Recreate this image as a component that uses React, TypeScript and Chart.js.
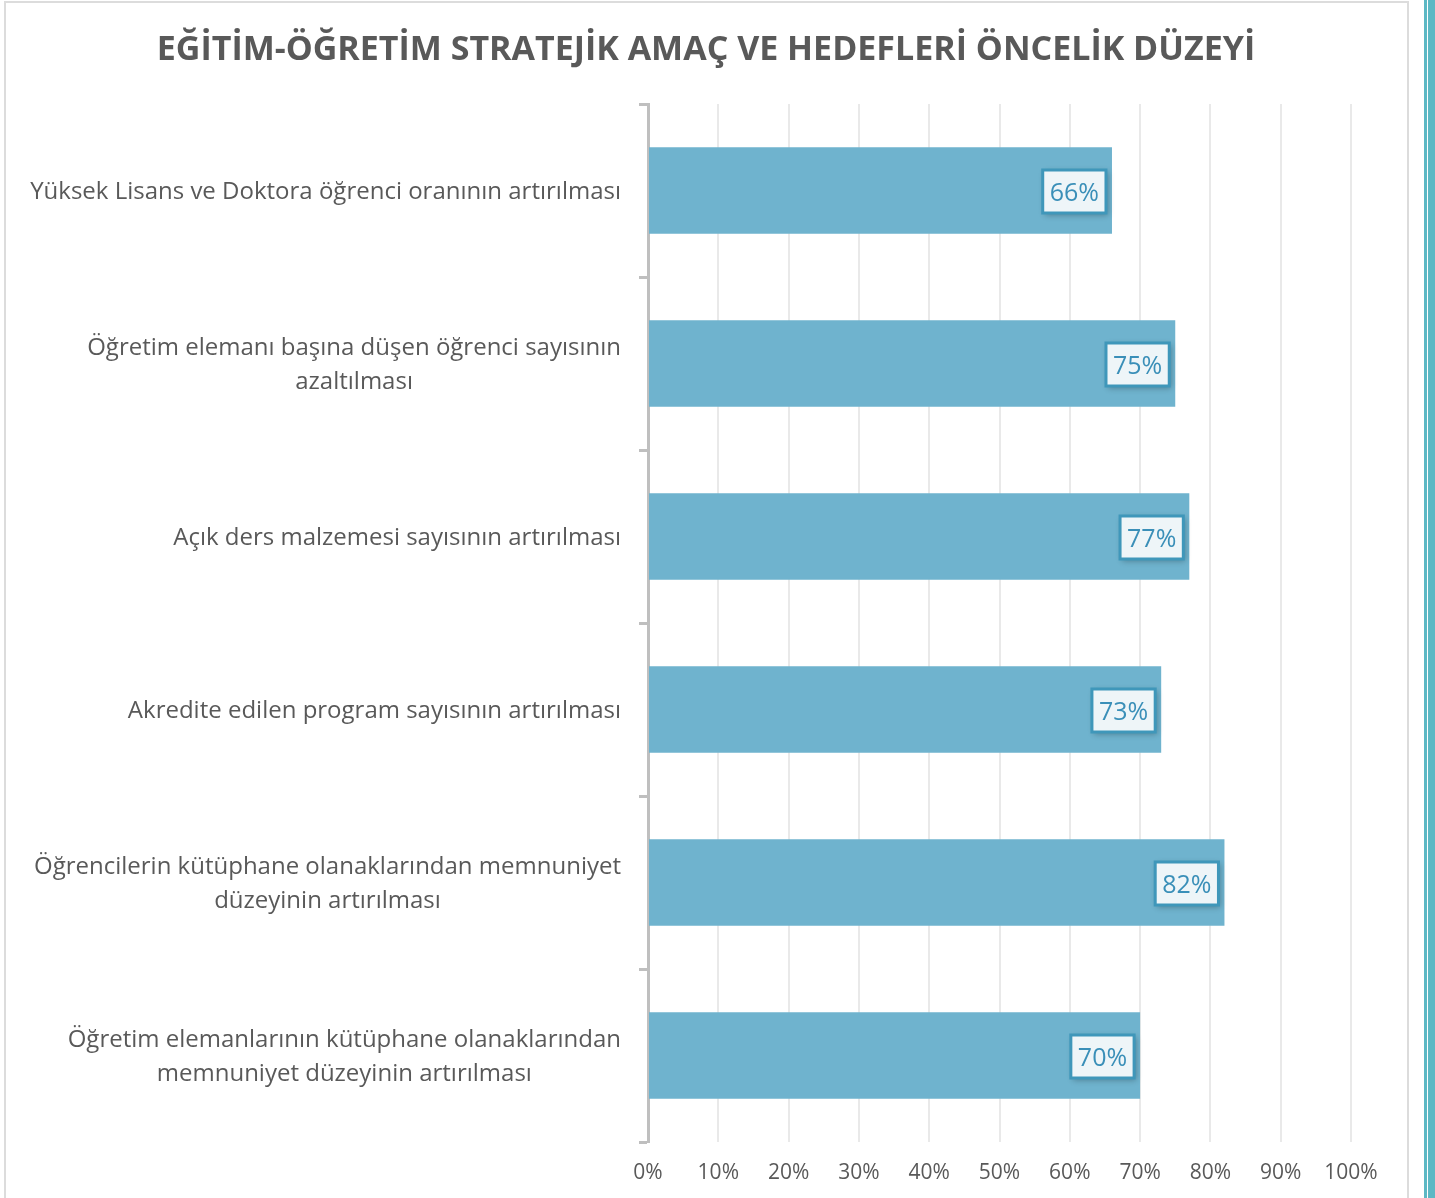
import React, { useEffect, useRef } from "react";
import { Chart, registerables } from "chart.js";

Chart.register(...registerables);

const chartTitle = "EĞİTİM-ÖĞRETİM STRATEJİK AMAÇ VE HEDEFLERİ ÖNCELİK DÜZEYİ";

const categories: string[][] = [
  ["Yüksek Lisans ve Doktora öğrenci oranının artırılması"],
  ["Öğretim elemanı başına düşen öğrenci sayısının", "azaltılması"],
  ["Açık ders malzemesi sayısının artırılması"],
  ["Akredite edilen program sayısının artırılması"],
  ["Öğrencilerin kütüphane olanaklarından memnuniyet", "düzeyinin artırılması"],
  ["Öğretim elemanlarının kütüphane olanaklarından", "memnuniyet düzeyinin artırılması"],
];

const values: number[] = [66, 75, 77, 73, 82, 70];

const xTickValues: number[] = [0, 10, 20, 30, 40, 50, 60, 70, 80, 90, 100];

const FONT = '"Open Sans", "Noto Sans", sans-serif';
const TEXT = "#595959";

const customDraw = {
  id: "customDraw",
  afterDraw(chart: any) {
    const ctx = chart.ctx as CanvasRenderingContext2D;
    const area = chart.chartArea;
    const yScale = chart.scales.y;
    ctx.save();
    // title
    ctx.font = `bold 34px ${FONT}`;
    ctx.fillStyle = TEXT;
    ctx.textAlign = "center";
    ctx.textBaseline = "middle";
    ctx.fillText(chartTitle, chart.width / 2, 50);

    // category labels
    ctx.font = `24px ${FONT}`;
    ctx.fillStyle = TEXT;
    const labels = chart.data.labels as string[][];
    labels.forEach((lines, i) => {
      const yc = yScale.getPixelForValue(i) + 2;
      const w = Math.max(...lines.map((l) => ctx.measureText(l).width));
      const cx = area.left - 27 - w / 2;
      const lh = 34;
      lines.forEach((l, j) => {
        ctx.fillText(l, cx, yc + (j - (lines.length - 1) / 2) * lh);
      });
    });

    // data labels
    const meta = chart.getDatasetMeta(0);
    const data = chart.data.datasets[0].data as number[];
    ctx.font = `25px ${FONT}`;
    meta.data.forEach((bar: any, i: number) => {
      const text = `${data[i]}%`;
      const tw = ctx.measureText(text).width;
      const bw = tw + 14;
      const bh = 43;
      const bx = bar.x - 6 - bw;
      const by = bar.y - bh / 2 + 1;
      ctx.save();
      ctx.shadowColor = "rgba(0,0,0,0.3)";
      ctx.shadowBlur = 6;
      ctx.shadowOffsetX = 2;
      ctx.shadowOffsetY = 2;
      ctx.fillStyle = "#eef5f8";
      ctx.fillRect(bx, by, bw, bh);
      ctx.restore();
      ctx.strokeStyle = "#3f97ba";
      ctx.lineWidth = 3;
      ctx.strokeRect(bx, by, bw, bh);
      ctx.fillStyle = "#3a8fb8";
      ctx.textAlign = "center";
      ctx.textBaseline = "middle";
      ctx.fillText(text, bx + bw / 2, bar.y + 3);
    });
    ctx.restore();
  },
};

function BarChart() {
  const ref = useRef<HTMLCanvasElement | null>(null);
  useEffect(() => {
    document.body.style.margin = "0";
    if (!ref.current) return;
    const chart = new Chart(ref.current, {
      type: "bar",
      data: {
        labels: categories as any,
        datasets: [
          {
            data: values,
            backgroundColor: "#6fb3ce",
            barPercentage: 0.5,
            categoryPercentage: 1,
          },
        ],
      },
      options: {
        indexAxis: "y",
        animation: false,
        responsive: false,
        devicePixelRatio: 1,
        layout: { padding: { top: 104, right: 56, bottom: 13, left: 0 } },
        plugins: {
          legend: { display: false },
          tooltip: { enabled: false },
          title: { display: false },
        },
        scales: {
          x: {
            type: "linear",
            min: 0,
            max: 100,
            afterBuildTicks: (scale: any) => {
              scale.ticks = xTickValues.map((v) => ({ value: v }));
            },
            afterFit: (scale: any) => {
              scale.height = 43;
            },
            ticks: {
              autoSkip: false,
              maxRotation: 0,
              callback: (v: any) => `${v}%`,
              font: { size: 21, family: FONT },
              color: TEXT,
              padding: 18,
            },
            grid: { color: "#e9e9e9", lineWidth: 2, drawTicks: false },
            border: { display: false },
          },
          y: {
            type: "category",
            offset: true,
            ticks: { display: false },
            grid: {
              display: true,
              drawOnChartArea: false,
              offset: true,
              tickLength: 9,
              tickWidth: 3,
              tickColor: "#bfbfbf",
              color: "#bfbfbf",
            },
            border: { display: true, color: "#bfbfbf", width: 3 },
            afterFit: (scale: any) => {
              scale.width = 643;
            },
          },
        },
      } as any,
      plugins: [customDraw],
    });
    return () => chart.destroy();
  }, []);
  return (
    <canvas
      ref={ref}
      width={1402}
      height={1198}
      style={{ position: "absolute", left: 5, top: 0, width: 1402, height: 1198 }}
    />
  );
}

export default function App() {
  return (
    <div
      style={{
        position: "relative",
        width: 1435,
        height: 1198,
        overflow: "hidden",
        background: "#ffffff",
      }}
    >
      <div
        style={{
          position: "absolute",
          left: 4,
          top: 1,
          width: 1401,
          height: 1300,
          border: "2px solid #dcdcdc",
        }}
      />
      <BarChart />
      <div style={{ position: "absolute", left: 1424, top: 0, width: 3, height: 1198, background: "#5cb8c4" }} />
      <div style={{ position: "absolute", left: 1428, top: 0, width: 7, height: 1198, background: "#5cb8c4" }} />
    </div>
  );
}
